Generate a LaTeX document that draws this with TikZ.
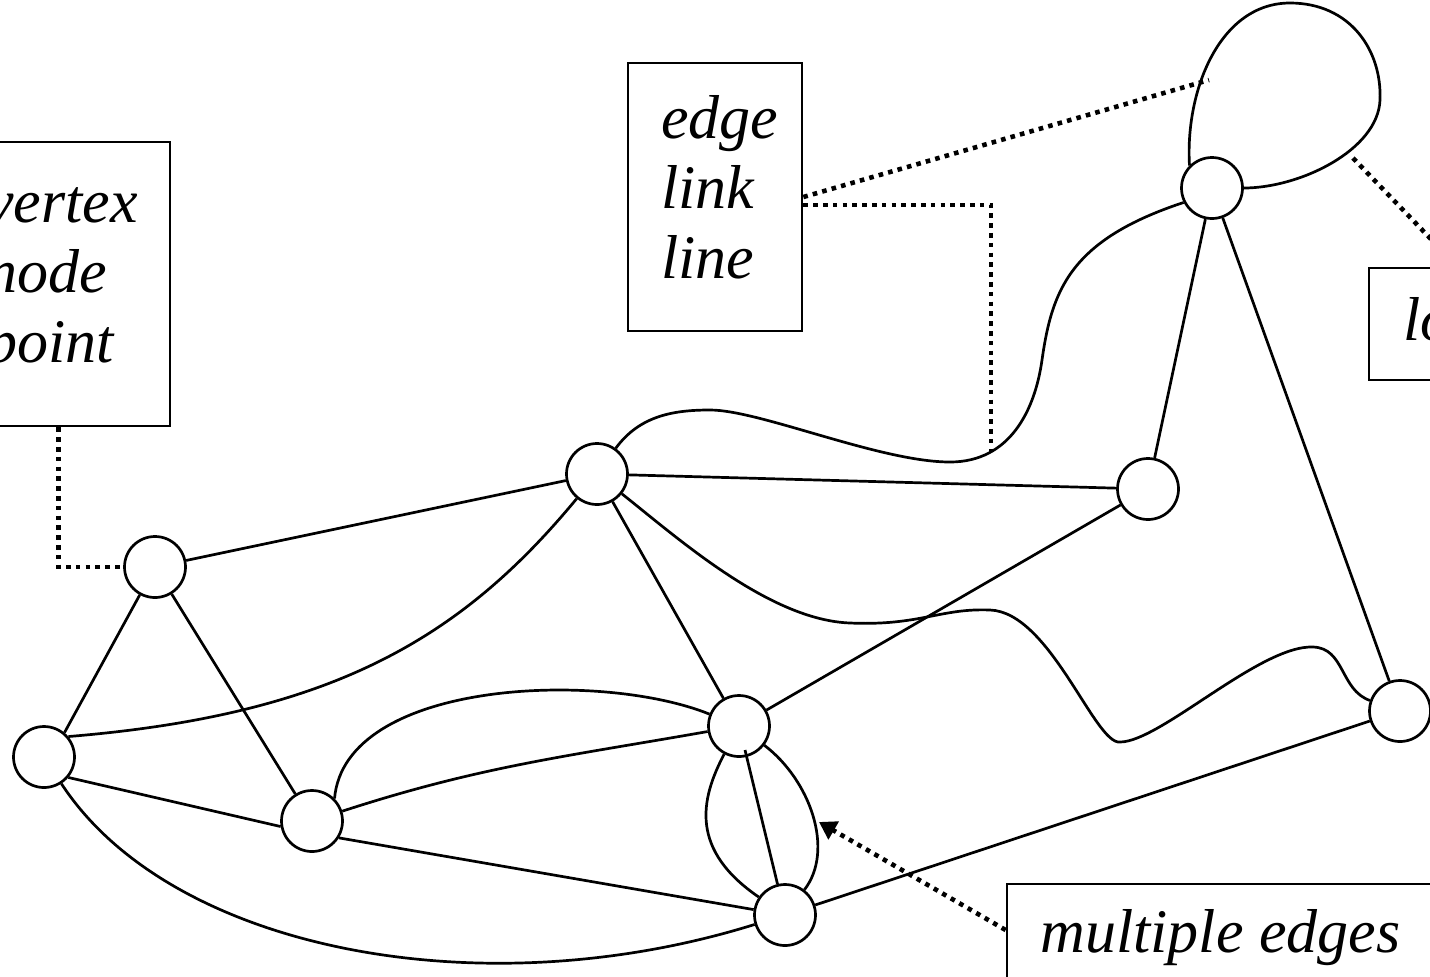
\documentclass[tikz,border=0pt]{standalone}
\usepackage{fontspec}
\setmainfont{Liberation Serif}
\usetikzlibrary{arrows.meta,calc}
\tikzset{
  vtx/.style={circle, draw, line width=1.35pt, fill=white, minimum size=30.5pt, inner sep=0pt},
  lnk/.style={line width=1.35pt},
  callout/.style={draw, line width=1.35pt, rectangle, inner sep=0pt},
  dotline/.style={line width=2.3pt, dash pattern=on 2.3pt off 2.6pt},
  word/.style={font=\fontsize{31}{35}\selectfont\itshape, anchor=base west, inner sep=0pt},
}
\begin{document}
\begin{tikzpicture}[x=0.5pt, y=-0.5pt]
\useasboundingbox (0,0) rectangle (1430,976);
\clip (0,0) rectangle (1430,976);

% vertices
\node[vtx] (A) at (155,567) {};
\node[vtx] (B) at (44,757) {};
\node[vtx] (C) at (312,821) {};
\node[vtx] (D) at (597,474) {};
\node[vtx] (E) at (739,726) {};
\node[vtx] (F) at (785,915) {};
\node[vtx] (G) at (1148,489) {};
\node[vtx] (H) at (1212,188) {};
\node[vtx] (I) at (1400,711) {};

% labelled boxes
\node[callout, minimum width=105pt, minimum height=142pt] (vbox) at (65,284) {};
\node[word] (vt1) at (-14,222) {vertex};
\node[word] (vt2) at (-14,292) {node};
\node[word] (vt3) at (-14,362) {point};

\node[callout, minimum width=87pt, minimum height=134pt] (ebox) at (715,197) {};
\node[word] (et1) at (661,138) {edge};
\node[word] (et2) at (661,208) {link};
\node[word] (et3) at (661,278) {line};

\node[callout, minimum width=88.5pt, minimum height=56pt] (lbox) at (1457.5,324) {};
\node[word] (lt1) at (1403,340) {loop};

\node[callout, minimum width=212pt, minimum height=56pt] (mbox) at (1219,940) {};
\node[word] (mt1) at (1040,952) {multiple edges};

% free ends of the pointer lines
\coordinate (loopL) at (1209,80);
\coordinate (loopR) at (1353,158);
\coordinate (waveB) at (991,452);
\coordinate (mtip) at (819,822);

% straight edges
\draw[lnk] (A) -- (B.50);
\draw[lnk] (A) -- (C);
\draw[lnk] (A) -- (D);
\draw[lnk] (B.-40) -- (C.190);
\draw[lnk] (C.-32) -- (F);
\draw[lnk] (D) -- (E);
\draw[lnk] (D) -- (G);
\draw[lnk] (E) -- (G);
\draw[lnk] (F) -- (I);
\draw[lnk] (G) -- (H);
\draw[lnk] (H) -- (I);

% curved edges
\draw[lnk] (B.40) .. controls (330,715) and (460,640) .. (D);
\draw[lnk] (B) .. controls (170,950) and (480,1010) .. (F);
\draw[lnk] (C) to[out=18, in=190] (E);
\draw[lnk] (C.45) .. controls (345,680) and (600,670) .. (E);
\draw[lnk] (D) .. controls (640,415) and (675,410) .. (710,410)
               .. controls (760,410) and (880,462) .. (950,462)
               .. controls (1010,462) and (1035,410) .. (1042,360)
               .. controls (1052,290) and (1070,240) .. (H.207);
\draw[lnk] (D) .. controls (680,540) and (770,620) .. (850,623)
               .. controls (920,626) and (940,608) .. (990,610)
               .. controls (1050,612) and (1095,745) .. (1120,742)
               .. controls (1160,742) and (1260,645) .. (1313,647)
               .. controls (1345,648) and (1340,690) .. (I);

% multiple edges between E and F
\draw[lnk] ($(E)+(6,24)$) -- (F);
\draw[lnk] (E) .. controls (700,800) and (690,850) .. (F);
\draw[lnk] (E) .. controls (810,780) and (835,850) .. (F);

% loop at H
\draw[lnk] (H.135) .. controls (1185,90) and (1220,3) .. (1290,3)
                   .. controls (1350,3) and (1382,50) .. (1380,100)
                   .. controls (1378,150) and (1300,188) .. (H.east);

% pointer lines
\draw[dotline] ([xshift=50pt]vbox.south west) |- (A);
\draw[dotline] (ebox.east) -- (loopL);
\draw[dotline] ([yshift=-4pt]ebox.east) -| (waveB);
\draw[dotline] (loopR) -- (lbox.north);
\draw[dotline, -{Triangle[length=8.5pt, width=10pt]}] ([yshift=5pt]mbox.west) -- (mtip);
\end{tikzpicture}
\end{document}
